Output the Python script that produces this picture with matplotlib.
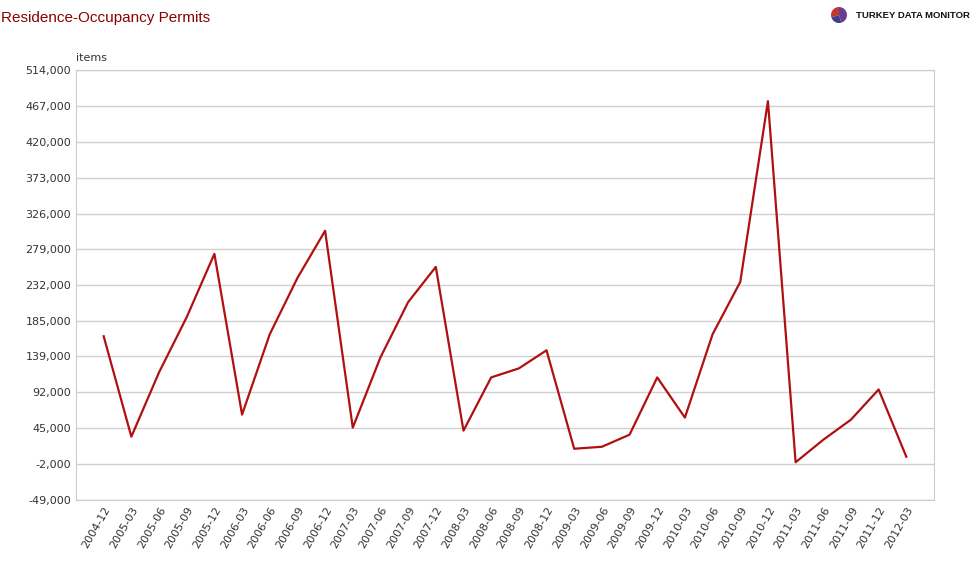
import matplotlib.pyplot as plt
import numpy as np

periods = ['2004-12', '2005-03', '2005-06', '2005-09', '2005-12', '2006-03', '2006-06', '2006-09',
           '2006-12', '2007-03', '2007-06', '2007-09', '2007-12', '2008-03', '2008-06', '2008-09',
           '2008-12', '2009-03', '2009-06', '2009-09', '2009-12', '2010-03', '2010-06', '2010-09',
           '2010-12', '2011-03', '2011-06', '2011-09', '2011-12', '2012-03']
permits = [165400, 33900, 118100, 190400, 273300, 62800, 168000, 241700,
           303500, 45700, 137800, 210100, 256200, 41800, 111500, 123300,
           147000, 18100, 20700, 36500, 111500, 58900, 168000, 236500,
           473200, 400, 29900, 56200, 95700, 7600]
yticks = [-49000, -2000, 45000, 92000, 139000, 185000, 232000, 279000, 326000, 373000, 420000, 467000, 514000]

fig = plt.figure(figsize=(9.79, 5.70), dpi=100)
ax = fig.add_axes([76 / 979, 70 / 570, 858 / 979, 430 / 570])

x = np.arange(len(periods))
ax.plot(x, permits, color='#b01010', linewidth=1.6)
ax.set_xlim(-1, len(periods))
ax.set_ylim(-49000, 514000)
ax.set_yticks(yticks)
ax.set_yticklabels([f'{v:,}' for v in yticks], fontsize=8, color='#333333')
ax.set_xticks(x)
ax.set_xticklabels(periods, rotation=60, ha='right', rotation_mode='anchor', fontsize=8, color='#333333')
ax.grid(axis='y', color='#d0d0d0', linewidth=1)
ax.tick_params(length=0)
for s in ax.spines.values():
    s.set_color('#cccccc')

fig.text(76 / 979, 1 - 58 / 570, 'items', fontsize=8, color='#333333', va='center')
fig.text(1 / 979, 1 - 18 / 570, 'Residence-Occupancy Permits', fontsize=11, color='#8b0000', va='center',
         family='Liberation Sans')
fig.text(970 / 979, 1 - 15 / 570, 'TURKEY DATA MONITOR', fontsize=6.8, fontweight='bold', color='#111111',
         va='center', ha='right', family='Liberation Sans')
pie_ax = fig.add_axes([829 / 979, 1 - 25 / 570, 20 / 979, 20 / 570])
pie_ax.pie([30, 25, 45], colors=['#c0392b', '#3a3f8f', '#6a3d8a'], startangle=90)

fig.savefig('out.png', dpi=100)
